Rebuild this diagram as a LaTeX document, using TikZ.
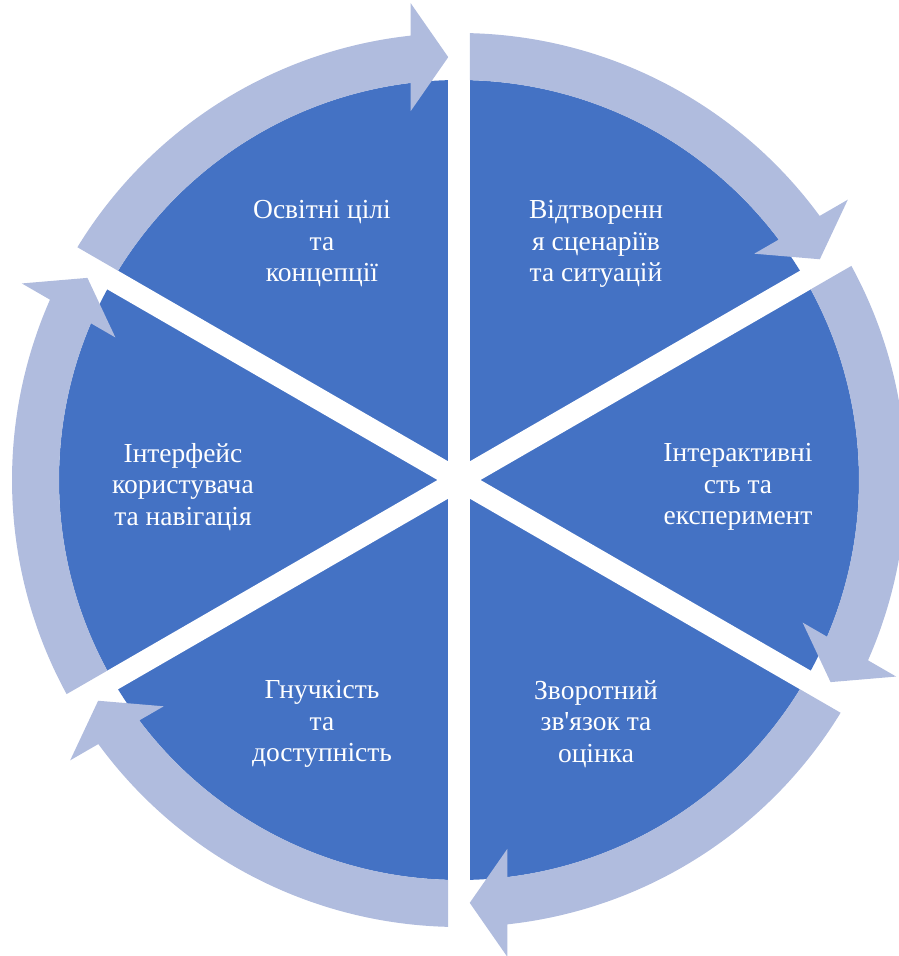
\documentclass[tikz,border=0pt]{standalone}
\usepackage{fontspec}
\setmainfont{Liberation Serif}[Ligatures=TeXOff]
\definecolor{diskblue}{RGB}{68,114,196}
\definecolor{arrowblue}{RGB}{176,188,222}
\tikzset{
  disk/.style={fill=diskblue},
  gapline/.style={draw=white,line width=21.5pt},
  cyclearrow/.style={fill=arrowblue},
  label/.style={text=white,align=center,inner sep=0pt,font=\fontsize{27.5}{31.5}\selectfont}
}
\newcommand{\segarrow}[1]{%
  \begin{scope}[rotate=#1]
    \fill[cyclearrow] (58.62:447) arc[start angle=58.62,end angle=6.21,radius=447]
      -- (476.86,48.35) -- (422.86,10.75) -- (368.86,48.35)
      -- (6.94:400) arc[start angle=6.94,end angle=58.46,radius=400] -- cycle;
  \end{scope}}
\begin{document}
\begin{tikzpicture}[x=1pt,y=1pt]
\useasboundingbox (-459,-476) rectangle (440,480);
\coordinate (c) at (0,0);
\fill[disk] (c) circle[radius=400];
\draw[gapline] (90:402) -- (-90:402);
\draw[gapline] (30:402) -- (210:402);
\draw[gapline] (150:402) -- (-30:402);
\segarrow{90}
\segarrow{30}
\segarrow{-30}
\segarrow{-90}
\segarrow{-150}
\segarrow{150}
\node[label] (tl) at (-137,236) {Освітні цілі\\та\\концепції};
\node[label] (tr) at (137,236) {Відтворенн\\я сценаріїв\\та ситуацій};
\node[label] (r) at (279,-7) {Інтерактивні\\сть та\\експеримент};
\node[label] (br) at (137,-244) {Зворотний\\зв'язок та\\оцінка};
\node[label] (bl) at (-137,-244) {Гнучкість\\та\\доступність};
\node[label] (l) at (-276,-7) {Інтерфейс\\користувача\\та навігація};
\end{tikzpicture}
\end{document}
